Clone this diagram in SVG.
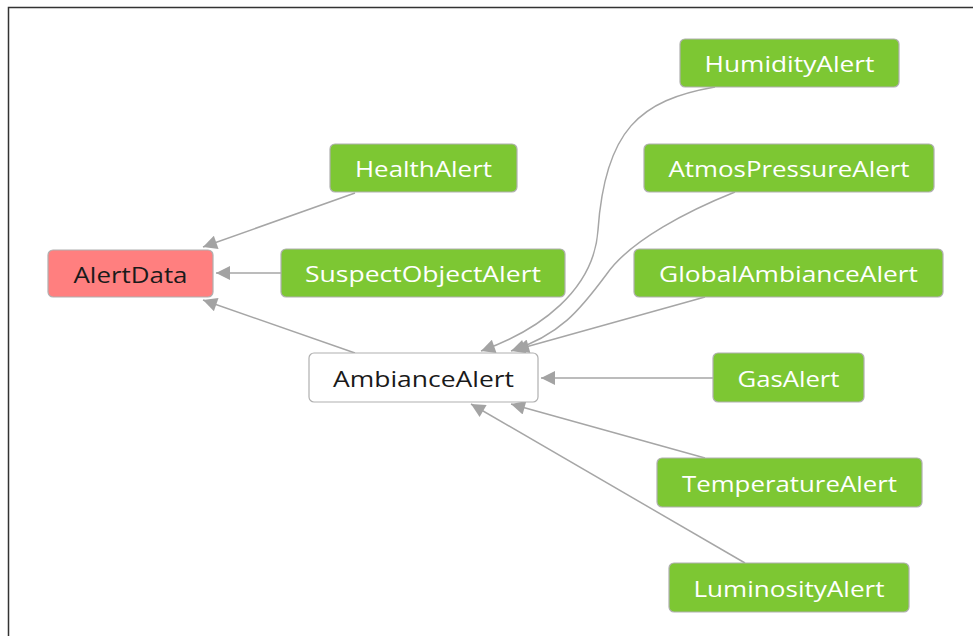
<svg xmlns="http://www.w3.org/2000/svg" width="973" height="636" viewBox="0 0 973 636">
<style>
.n rect{fill:#7dc733;stroke:#b0b0b0;stroke-width:1.2}
.n text{fill:#ffffff;font-family:"Open Sans","Noto Sans",sans-serif;font-size:21px;text-anchor:middle;dominant-baseline:central}
#AlertData rect{fill:#ff7f7f}
#AlertData text,#AmbianceAlert text{fill:#1a1a1a}
#AmbianceAlert rect{fill:#ffffff;stroke:#b0b0b0}
.e path{fill:none;stroke:#a6a6a6;stroke-width:1.5;marker-end:url(#ah)}
</style>
<defs>
<marker id="ah" viewBox="0 0 10 10" refX="10" refY="5" markerWidth="17" markerHeight="14" markerUnits="userSpaceOnUse" orient="auto"><path d="M0,0 L10,5 L0,10 z" fill="#a3a3a3"/></marker>
</defs>
<rect x="0" y="0" width="973" height="636" fill="#ffffff"/>
<path d="M8.5,636 V7.5 H973" fill="none" stroke="#333" stroke-width="1.5"/>
<g id="edges" class="e">
<path d="M355,193 L203,247"/>
<path d="M281,273 L216,273"/>
<path d="M355,353 L203,300"/>
<path d="M715,87 C640,100 605,130 598,230 C594,290 540,330 481,351"/>
<path d="M735,192 C690,210 630,240 606,275 C580,310 560,335 511,351"/>
<path d="M705,297 L515,350"/>
<path d="M713,378 L541,378"/>
<path d="M705,458 L511,404"/>
<path d="M745,563 L471,404"/>
</g>
<g id="AlertData" class="n"><rect x="48" y="250" width="165" height="47" rx="5"/><text x="130.5" y="274.5" textLength="114" lengthAdjust="spacingAndGlyphs">AlertData</text></g>
<g id="HealthAlert" class="n"><rect x="330" y="144" width="187" height="48" rx="5"/><text x="423.5" y="169" textLength="137" lengthAdjust="spacingAndGlyphs">HealthAlert</text></g>
<g id="SuspectObjectAlert" class="n"><rect x="281" y="249" width="284" height="48" rx="5"/><text x="423" y="274" textLength="236" lengthAdjust="spacingAndGlyphs">SuspectObjectAlert</text></g>
<g id="AmbianceAlert" class="n"><rect x="309" y="353" width="229" height="49" rx="5"/><text x="423.5" y="378.5" textLength="181" lengthAdjust="spacingAndGlyphs">AmbianceAlert</text></g>
<g id="HumidityAlert" class="n"><rect x="680" y="39" width="219" height="48" rx="5"/><text x="789.5" y="64" textLength="170" lengthAdjust="spacingAndGlyphs">HumidityAlert</text></g>
<g id="AtmosPressureAlert" class="n"><rect x="644" y="144" width="290" height="48" rx="5"/><text x="789" y="169" textLength="241" lengthAdjust="spacingAndGlyphs">AtmosPressureAlert</text></g>
<g id="GlobalAmbianceAlert" class="n"><rect x="634" y="249" width="309" height="48" rx="5"/><text x="788.5" y="274" textLength="259" lengthAdjust="spacingAndGlyphs">GlobalAmbianceAlert</text></g>
<g id="GasAlert" class="n"><rect x="713" y="353" width="151" height="49" rx="5"/><text x="788.5" y="378.5" textLength="102" lengthAdjust="spacingAndGlyphs">GasAlert</text></g>
<g id="TemperatureAlert" class="n"><rect x="657" y="458" width="265" height="49" rx="5"/><text x="789.5" y="483.5" textLength="215" lengthAdjust="spacingAndGlyphs">TemperatureAlert</text></g>
<g id="LuminosityAlert" class="n"><rect x="669" y="563" width="240" height="49" rx="5"/><text x="789" y="588.5" textLength="191" lengthAdjust="spacingAndGlyphs">LuminosityAlert</text></g>
</svg>
